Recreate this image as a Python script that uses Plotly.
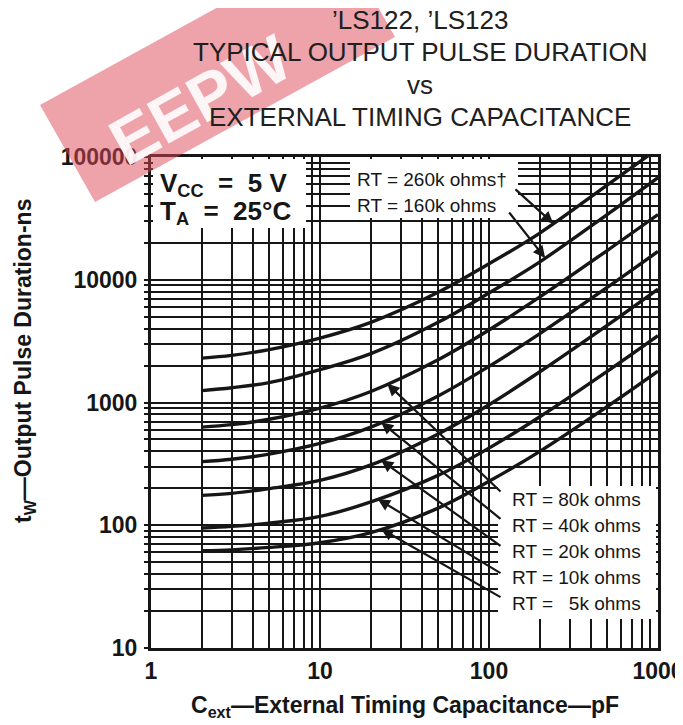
import numpy as np
import plotly.graph_objects as go

# ---------------- data ----------------
cap_pf = [2, 3, 5, 10, 20, 50, 100, 200, 500, 1000]

tw_rt260k = [2300, 2420, 2700, 3350, 4500, 7900, 13500, 24000, 59000, 117000]
tw_rt160k = [1250, 1320, 1450, 1850, 2500, 4500, 7800, 14000, 34000, 68000]
tw_rt80k = [630, 660, 730, 900, 1230, 2230, 3900, 7250, 17300, 34000]
tw_rt40k = [330, 345, 380, 464, 631, 1130, 1970, 3640, 8650, 17000]
tw_rt20k = [175, 182, 199, 232, 310, 555, 960, 1780, 4250, 8400]
tw_rt10k = [95, 98, 104, 118, 155, 255, 425, 765, 1790, 3500]
tw_rt5k = [62, 63, 66, 72, 87, 138, 228, 400, 925, 1800]

series_names = ["RT = 260k ohms", "RT = 160k ohms", "RT = 80k ohms", "RT = 40k ohms",
                "RT = 20k ohms", "RT = 10k ohms", "RT = 5k ohms"]
series_values = [tw_rt260k, tw_rt160k, tw_rt80k, tw_rt40k, tw_rt20k, tw_rt10k, tw_rt5k]

x_tick_vals = [1, 10, 100, 1000]
x_tick_text = ["1", "10", "100", "1000"]
y_tick_vals = [10, 100, 1000, 10000, 100000]
y_tick_text = ["10", "100", "1000", "10000", "100000"]

title_lines = ["\u2019LS122, \u2019LS123", "TYPICAL OUTPUT PULSE DURATION", "vs",
               "EXTERNAL TIMING CAPACITANCE"]
upper_labels = ["RT = 260k ohms\u2020", "RT = 160k ohms"]
lower_labels = ["RT = 80k ohms", "RT = 40k ohms", "RT = 20k ohms", "RT = 10k ohms",
                "RT = \u00a0\u00a05k ohms"]
# capacitance at which each label's arrow touches its curve
upper_arrow_cap = [240, 215]
lower_arrow_cap = [25, 23, 23, 22, 23]

# ---------------- styling ----------------
FONT = "Liberation Sans, Arial, Helvetica, sans-serif"
INK = "#161616"

PAGE_OFFSET = 8                      # default body margin of the written html page
PAGE_W, PAGE_H = 683, 725
# plot area in page pixels: x 151..658, y 157..648
PX0, PX1, PY0, PY1 = 151, 658, 157, 648
FIG_W, FIG_H = PAGE_W - PAGE_OFFSET, PAGE_H - PAGE_OFFSET


def px_to_paper(px, py):
    return (px - PX0) / (PX1 - PX0), (PY1 - py) / (PY1 - PY0)


def log_interp(caps, vals, c):
    return float(np.interp(np.log10(c), np.log10(caps), np.log10(vals)))


fig = go.Figure()
for name, vals in zip(series_names, series_values):
    fig.add_trace(go.Scatter(
        x=cap_pf, y=vals, mode="lines", name=name, showlegend=False,
        line=dict(color=INK, width=3.4, shape="spline", smoothing=1.0),
        hoverinfo="skip"))

shapes = []
annotations = []

# white label boxes (no curve passes through them)
for (x0p, y0p, x1p, y1p) in [(153, 228, 306, 159), (350, 218, 518, 159), (498, 619, 656, 486)]:
    ax0, ay0 = px_to_paper(x0p, y0p)
    ax1, ay1 = px_to_paper(x1p, y1p)
    shapes.append(dict(type="rect", xref="paper", yref="paper", x0=ax0, y0=ay0, x1=ax1, y1=ay1,
                       fillcolor="white", line=dict(width=0), layer="above"))

# watermark band (top-left)
wm = [px_to_paper(95, 202), px_to_paper(395, 37), px_to_paper(340, -60), px_to_paper(40, 105)]
path = "M {} {} L {} {} L {} {} L {} {} Z".format(*[v for p in wm for v in p])
shapes.append(dict(type="path", path=path, xref="paper", yref="paper",
                   fillcolor="rgba(222,70,85,0.5)", line=dict(width=0), layer="above"))
wx, wy = px_to_paper(200, 100)
annotations.append(dict(text="<b>EEPW</b>", x=wx, y=wy, xref="paper", yref="paper",
                        showarrow=False, textangle=-29, opacity=0.9,
                        xanchor="center", yanchor="middle",
                        font=dict(family=FONT, size=66, color="white")))

# title lines
for line, py in zip(title_lines, [20, 52, 85, 117]):
    tx, ty = px_to_paper(420, py)
    annotations.append(dict(text=line, x=tx, y=ty, xref="paper", yref="paper",
                            showarrow=False, xanchor="center", yanchor="middle",
                            font=dict(family=FONT, size=26, color="#202020")))

# axis titles
tx, ty = px_to_paper(24, 361)
annotations.append(dict(text="t<sub>W</sub>\u2014Output Pulse Duration-ns", x=tx, y=ty,
                        xref="paper", yref="paper", showarrow=False, textangle=-90,
                        xanchor="center", yanchor="middle",
                        font=dict(family=FONT, size=23, color=INK, weight=700)))
tx, ty = px_to_paper(405, 706)
annotations.append(dict(text="C<sub>ext</sub>\u2014External Timing Capacitance\u2014pF", x=tx, y=ty,
                        xref="paper", yref="paper", showarrow=False,
                        xanchor="center", yanchor="middle",
                        font=dict(family=FONT, size=23, color=INK, weight=700)))

# conditions box
for txt, py in [("V<sub>CC</sub>\u00a0\u00a0=\u00a0\u00a05\u00a0V", 184),
                ("T<sub>A</sub>\u00a0\u00a0=\u00a0\u00a025\u00b0C", 212)]:
    tx, ty = px_to_paper(158, py)
    annotations.append(dict(text=txt, x=tx, y=ty, xref="paper", yref="paper", showarrow=False,
                            xanchor="left", yanchor="middle",
                            font=dict(family=FONT, size=26, color=INK, weight=700)))


def tail_to_log(px, py):
    return (px - PX0) / (PX1 - PX0) * 3, 1 + (PY1 - py) / (PY1 - PY0) * 4


# upper RT labels + arrows
upper_tails = [(514, 188), (508, 211)]
for i, (txt, py) in enumerate(zip(upper_labels, [179, 205])):
    tx, ty = px_to_paper(355, py)
    annotations.append(dict(text=txt, x=tx, y=ty, xref="paper", yref="paper", showarrow=False,
                            xanchor="left", yanchor="middle",
                            font=dict(family=FONT, size=19, color=INK)))
    c = upper_arrow_cap[i]
    tlx, tly = tail_to_log(*upper_tails[i])
    annotations.append(dict(text="", x=np.log10(c), y=log_interp(cap_pf, series_values[i], c),
                            xref="x", yref="y", ax=tlx, ay=tly, axref="x", ayref="y",
                            showarrow=True, arrowhead=2, arrowsize=1.1,
                            arrowwidth=2.2, arrowcolor=INK))

# lower RT labels + arrows
lower_tails = [(502, 493), (502, 520), (502, 547), (502, 574), (502, 598)]
for i, (txt, py) in enumerate(zip(lower_labels, [499, 525, 551, 577, 603])):
    tx, ty = px_to_paper(510, py)
    annotations.append(dict(text=txt, x=tx, y=ty, xref="paper", yref="paper", showarrow=False,
                            xanchor="left", yanchor="middle",
                            font=dict(family=FONT, size=19, color=INK)))
    c = lower_arrow_cap[i]
    tlx, tly = tail_to_log(*lower_tails[i])
    annotations.append(dict(text="", x=np.log10(c), y=log_interp(cap_pf, series_values[i + 2], c),
                            xref="x", yref="y", ax=tlx, ay=tly, axref="x", ayref="y",
                            showarrow=True, arrowhead=2, arrowsize=1.1,
                            arrowwidth=2.2, arrowcolor=INK))

fig.update_layout(
    width=FIG_W, height=FIG_H,
    margin=dict(l=PX0 - PAGE_OFFSET, r=(PAGE_OFFSET + FIG_W) - PX1,
                t=PY0 - PAGE_OFFSET, b=(PAGE_OFFSET + FIG_H) - PY1, autoexpand=False),
    paper_bgcolor="white", plot_bgcolor="white",
    showlegend=False, shapes=shapes, annotations=annotations,
)

fig.update_xaxes(
    type="log", range=[0, 3], tickmode="array", tickvals=x_tick_vals, ticktext=x_tick_text,
    automargin=False,
    showgrid=True, gridcolor=INK, gridwidth=2,
    minor=dict(dtick="D1", showgrid=True, gridcolor=INK, gridwidth=1.6),
    showline=True, mirror=True, linecolor=INK, linewidth=3, ticks="", zeroline=False,
    ticklabelstandoff=0, ticklabeloverflow="allow",
    tickfont=dict(family=FONT, size=23, color=INK, weight=700),
)
fig.update_yaxes(
    type="log", range=[1, 5], tickmode="array", tickvals=y_tick_vals, ticktext=y_tick_text,
    automargin=False,
    showgrid=True, gridcolor=INK, gridwidth=2,
    minor=dict(dtick="D1", showgrid=True, gridcolor=INK, gridwidth=1.6,
               ticks="outside", ticklen=4, tickcolor=INK, tickwidth=1.5),
    showline=True, mirror=True, linecolor=INK, linewidth=3, ticks="", zeroline=False,
    ticklabelstandoff=6, ticklabeloverflow="allow",
    tickfont=dict(family=FONT, size=23, color=INK, weight=700),
)

fig.write_html("out.html")
